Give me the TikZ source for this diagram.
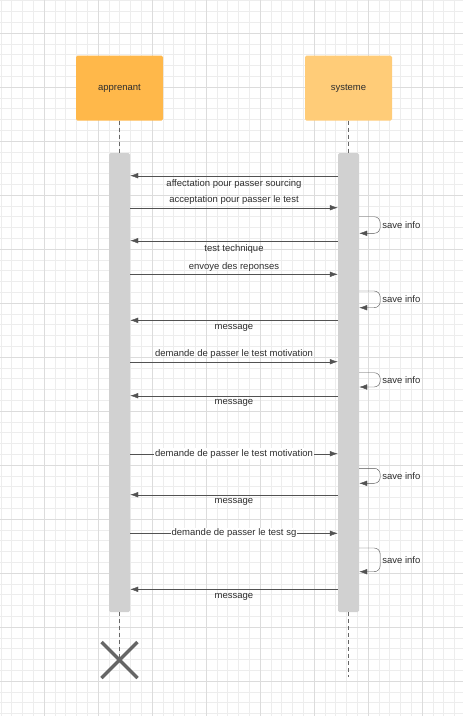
\documentclass[tikz,border=0pt]{standalone}
\usepackage{fontspec}
\setmainfont{Liberation Sans}
\usetikzlibrary{arrows.meta}
\definecolor{actorA}{HTML}{FFB84A}
\definecolor{actorB}{HTML}{FFCC78}
\definecolor{gridmin}{HTML}{EDEDED}
\definecolor{gridmaj}{HTML}{DCDCDC}
\definecolor{ink}{HTML}{2E2E2E}

\begin{document}
\begin{tikzpicture}[x=1pt, y=-1pt, font=\fontsize{9.5}{11}\selectfont]
  \tikzstyle{actor}=[rectangle, rounded corners=1.5pt, minimum width=87pt, minimum height=65pt, text=ink]
  \tikzstyle{bar}=[rectangle, fill=black!18, rounded corners=1.5pt, minimum width=21pt, minimum height=459pt, inner sep=0pt]
  \tikzstyle{msg}=[draw=black!68, -{Latex[length=8pt,width=5.5pt]}]
  \tikzstyle{self}=[msg, rounded corners=6pt]
  \tikzstyle{life}=[draw=black!60, dash pattern=on 4pt off 3pt]
  \tikzstyle{lbl}=[text=ink, inner sep=1pt]
  \useasboundingbox (0,0) rectangle (463,716);
  \fill[white] (0,0) rectangle (463,716);
  \foreach \k in {0,...,42} \draw[gridmin] (0.8+10.8*\k,0) -- (0.8+10.8*\k,716);
  \foreach \k in {0,...,66} \draw[gridmin] (0,0.6+10.8*\k) -- (463,0.6+10.8*\k);
  \foreach \k in {4,9,...,39} \draw[gridmaj] (0.8+10.8*\k,0) -- (0.8+10.8*\k,716);
  \foreach \k in {3,8,...,63} \draw[gridmaj] (0,0.6+10.8*\k) -- (463,0.6+10.8*\k);

  \node[actor, fill=actorA] (app) at (119.5,88) {apprenant};
  \node[actor, fill=actorB] (sys) at (348.5,88) {systeme};
  \node[bar] (abar) at (119.5,382.5) {};
  \node[bar] (sbar) at (348.5,382.5) {};
  \coordinate (kill) at (119.5,660);
  \coordinate (send) at (348.5,677);
  \draw[life] (app) -- (abar);
  \draw[life] (sys) -- (sbar);
  \draw[life] (abar) -- (kill);
  \draw[life] (sbar) -- (send);
  \draw[black!60, line width=3.5pt] (kill) +(-18,-18) -- +(18,18) (kill) +(-18,18) -- +(18,-18);

  \draw[msg] (sbar.west |- 0,175.7) -- node[lbl, below=2.5pt] {affectation pour passer sourcing} (abar.east |- 0,175.7);
  \draw[msg] (abar.east |- 0,207.7) -- node[lbl, above=2pt] {acceptation pour passer le test} (sbar.west |- 0,207.7);
  \draw[self] (sbar.east |- 0,216.7) -- ++(21,0) -- node[lbl, right=1pt] {save info} ++(0,16.6) -- (sbar.east |- 0,233.3);
  \draw[msg] (sbar.west |- 0,240.7) -- node[lbl, below=2.5pt] {test technique} (abar.east |- 0,240.7);
  \draw[msg] (abar.east |- 0,274.3) -- node[lbl, above=2pt] {envoye des reponses} (sbar.west |- 0,274.3);
  \draw[self] (sbar.east |- 0,291) -- ++(21,0) -- node[lbl, right=1pt] {save info} ++(0,16.7) -- (sbar.east |- 0,307.7);
  \draw[msg] (sbar.west |- 0,320.3) -- node[lbl, below=2.5pt] {message} (abar.east |- 0,320.3);
  \draw[msg] (abar.east |- 0,361.7) -- node[lbl, above=2pt] {demande de passer le test motivation} (sbar.west |- 0,361.7);
  \draw[self] (sbar.east |- 0,372.7) -- ++(21,0) -- node[lbl, right=1pt] {save info} ++(0,14.3) -- (sbar.east |- 0,387);
  \draw[msg] (sbar.west |- 0,395.7) -- node[lbl, below=2.5pt] {message} (abar.east |- 0,395.7);
  \draw[msg] (abar.east |- 0,453.7) -- node[lbl, fill=white] {demande de passer le test motivation} (sbar.west |- 0,453.7);
  \draw[self] (sbar.east |- 0,468.3) -- ++(21,0) -- node[lbl, right=1pt] {save info} ++(0,15) -- (sbar.east |- 0,483.3);
  \draw[msg] (sbar.west |- 0,494.7) -- node[lbl, below=2.5pt] {message} (abar.east |- 0,494.7);
  \draw[msg] (abar.east |- 0,533.3) -- node[lbl, fill=white] {demande de passer le test sg} (sbar.west |- 0,533.3);
  \draw[self] (sbar.east |- 0,548) -- ++(21,0) -- node[lbl, right=1pt] {save info} ++(0,23.7) -- (sbar.east |- 0,571.7);
  \draw[msg] (sbar.west |- 0,589.3) -- node[lbl, below=2.5pt] {message} (abar.east |- 0,589.3);
\end{tikzpicture}
\end{document}
